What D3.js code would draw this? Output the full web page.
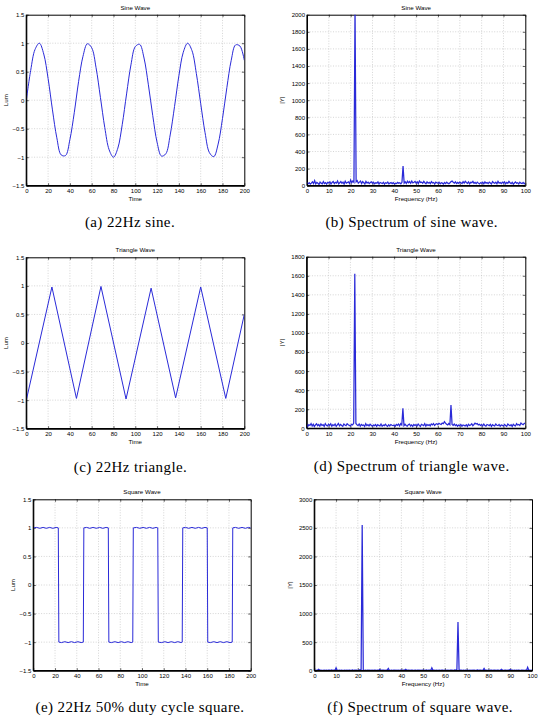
<!DOCTYPE html>
<html>
<head>
<meta charset="utf-8">
<script src="https://cdn.jsdelivr.net/npm/d3@7"></script>
<style>
  body { margin: 0; background: #fff; }
  svg { display: block; }
  .tick text { font-family: "Liberation Sans", Arial, sans-serif; font-size: 6px; fill: #000; }
  .lbl { font-family: "Liberation Sans", Arial, sans-serif; font-size: 6.2px; fill: #000; }
  .cap { font-family: "Liberation Serif", "DejaVu Serif", serif; font-size: 15px; letter-spacing: 0.4px; fill: #000; }
</style>
</head>
<body>
<div id="chart"></div>
<script>
// ---- data ----
var sineTime = [0, 4, 8, 12, 16, 20, 24, 28, 32, 36, 40, 44, 48, 52, 56, 60, 64, 68, 72, 76,
  80, 84, 88, 92, 96, 100, 104, 108, 112, 116, 120, 124, 128, 132, 136, 140, 144, 148, 152, 156,
  160, 164, 168, 172, 176, 180, 184, 188, 192, 196, 200];
var sineLum = [0, 0.52, 0.89, 1.0, 0.81, 0.38, -0.17, -0.66, -0.96, -0.97, -0.69, -0.22, 0.33, 0.77, 0.99, 0.92, 0.57, 0.05, -0.48, -0.87,
  -1.0, -0.84, -0.43, 0.11, 0.62, 0.94, 0.98, 0.74, 0.27, -0.27, -0.74, -0.98, -0.94, -0.61, -0.11, 0.43, 0.84, 1.0, 0.87, 0.47,
  -0.06, -0.57, -0.92, -0.99, -0.77, -0.32, 0.22, 0.70, 0.97, 0.95, 0.70];

var triTime = [0, 23.5, 46, 68.5, 91.5, 114.5, 137, 160, 183, 200];
var triLum = [-1, 0.98, -0.97, 0.99, -0.98, 0.96, -0.96, 0.98, -0.97, 0.5];

var sqTime = [0, 3, 6, 9, 12, 15, 18, 21, 23, 23.5, 26, 29, 32, 35, 38, 41, 44, 46, 46.5, 49, 52, 55, 58, 61, 64, 67, 69, 69.5,
  72, 75, 78, 81, 84, 87, 90, 91.5, 92, 95, 98, 101, 104, 107, 110, 113, 114.5, 115, 118, 121, 124, 127, 130, 133, 136, 137, 137.5,
  140, 143, 146, 149, 152, 155, 158, 160, 160.5, 163, 166, 169, 172, 175, 178, 181, 183, 183.5, 186, 189, 192, 195, 198, 200];
var sqLum = [1, 1.008, 0.992, 1.008, 0.992, 1.008, 0.992, 1.008, 1, -1, -1.008, -0.992, -1.008, -0.992, -1.008, -0.992, -1.008, -1, 1, 1.008, 0.992, 1.008, 0.992, 1.008, 0.992, 1.008, 1, -1,
  -1.008, -0.992, -1.008, -0.992, -1.008, -0.992, -1.008, -1, 1, 1.008, 0.992, 1.008, 0.992, 1.008, 0.992, 1.008, 1, -1, -1.008, -0.992, -1.008, -0.992, -1.008, -0.992, -1.008, -1, 1,
  1.008, 0.992, 1.008, 0.992, 1.008, 0.992, 1.008, 1, -1, -1.008, -0.992, -1.008, -0.992, -1.008, -0.992, -1.008, -1, 1, 1.008, 0.992, 1.008, 0.992, 1.008, 1];

var freqHz = [0, 0.5, 1, 1.5, 2, 2.5, 3, 3.5, 4, 4.5, 5, 5.5, 6, 6.5, 7, 7.5, 8, 8.5, 9, 9.5,
  10, 10.5, 11, 11.5, 12, 12.5, 13, 13.5, 14, 14.5, 15, 15.5, 16, 16.5, 17, 17.5, 18, 18.5, 19, 19.5,
  20, 20.5, 21, 21.5, 22, 22.5, 23, 23.5, 24, 24.5, 25, 25.5, 26, 26.5, 27, 27.5, 28, 28.5, 29, 29.5,
  30, 30.5, 31, 31.5, 32, 32.5, 33, 33.5, 34, 34.5, 35, 35.5, 36, 36.5, 37, 37.5, 38, 38.5, 39, 39.5,
  40, 40.5, 41, 41.5, 42, 42.5, 43, 43.5, 44, 44.5, 45, 45.5, 46, 46.5, 47, 47.5, 48, 48.5, 49, 49.5,
  50, 50.5, 51, 51.5, 52, 52.5, 53, 53.5, 54, 54.5, 55, 55.5, 56, 56.5, 57, 57.5, 58, 58.5, 59, 59.5,
  60, 60.5, 61, 61.5, 62, 62.5, 63, 63.5, 64, 64.5, 65, 65.5, 66, 66.5, 67, 67.5, 68, 68.5, 69, 69.5,
  70, 70.5, 71, 71.5, 72, 72.5, 73, 73.5, 74, 74.5, 75, 75.5, 76, 76.5, 77, 77.5, 78, 78.5, 79, 79.5,
  80, 80.5, 81, 81.5, 82, 82.5, 83, 83.5, 84, 84.5, 85, 85.5, 86, 86.5, 87, 87.5, 88, 88.5, 89, 89.5,
  90, 90.5, 91, 91.5, 92, 92.5, 93, 93.5, 94, 94.5, 95, 95.5, 96, 96.5, 97, 97.5, 98, 98.5, 99, 99.5, 100];

var sineSpec = [40, 22, 35, 18, 30, 45, 25, 60, 20, 38, 28, 15, 42, 30, 22, 48, 26, 35, 18, 40,
  32, 45, 20, 38, 50, 25, 40, 30, 55, 22, 35, 48, 28, 42, 20, 52, 30, 38, 45, 25,
  65, 35, 55, 40, 2100, 45, 60, 30, 42, 55, 25, 48, 35, 20, 50, 30, 42, 25, 38, 45,
  28, 40, 22, 35, 30, 45, 20, 38, 32, 25, 40, 18, 35, 28, 42, 22, 30, 38, 25, 35,
  20, 30, 25, 38, 28, 35, 22, 40, 230, 30, 45, 25, 52, 35, 48, 28, 55, 32, 40, 50,
  30, 45, 25, 55, 38, 42, 28, 50, 35, 22, 45, 30, 40, 25, 48, 32, 38, 20, 42, 35,
  28, 40, 22, 35, 30, 20, 38, 25, 42, 30, 22, 35, 48, 55, 40, 30, 45, 25, 38, 28,
  42, 35, 25, 48, 30, 52, 38, 28, 45, 22, 40, 35, 50, 28, 38, 25, 42, 30, 20, 35,
  28, 40, 22, 45, 30, 38, 25, 42, 32, 20, 48, 35, 28, 40, 22, 50, 30, 38, 25, 42,
  30, 45, 22, 38, 28, 50, 35, 25, 40, 18, 32, 45, 28, 35, 20, 40, 30, 25, 38, 22, 35];

var triSpec = [45, 20, 38, 30, 50, 25, 42, 18, 35, 48, 28, 40, 22, 45, 30, 38, 20, 50, 32, 25,
  42, 30, 48, 22, 38, 28, 45, 20, 35, 50, 25, 40, 30, 22, 45, 35, 28, 48, 38, 30,
  25, 42, 35, 55, 1620, 50, 38, 28, 45, 22, 40, 30, 35, 20, 48, 28, 38, 25, 42, 32,
  22, 35, 28, 40, 20, 38, 30, 25, 45, 22, 35, 28, 42, 30, 20, 38, 25, 40, 32, 28,
  35, 22, 40, 30, 45, 25, 48, 35, 210, 28, 42, 30, 22, 38, 45, 25, 35, 20, 40, 30,
  38, 25, 45, 30, 20, 42, 35, 28, 48, 22, 40, 30, 38, 25, 45, 35, 50, 30, 42, 48,
  38, 52, 45, 40, 55, 48, 70, 55, 42, 35, 50, 38, 245, 40, 30, 45, 28, 38, 22, 35,
  28, 40, 22, 35, 30, 25, 38, 20, 42, 30, 35, 48, 28, 40, 55, 45, 50, 35, 42, 30,
  38, 25, 45, 30, 22, 40, 35, 28, 42, 20, 38, 30, 25, 45, 32, 28, 40, 22, 35, 30,
  25, 40, 30, 22, 45, 35, 28, 38, 20, 42, 30, 25, 48, 35, 40, 30, 55, 45, 38, 50, 55];

var sqSpec = [10, 6, 8, 12, 25, 7, 9, 5, 8, 11, 6, 9, 7, 10, 8, 6, 12, 7, 9, 8,
  50, 8, 6, 10, 7, 9, 5, 8, 11, 7, 9, 6, 10, 8, 7, 12, 6, 9, 8, 10,
  7, 9, 18, 8, 2550, 12, 7, 10, 6, 9, 8, 11, 7, 10, 6, 8, 9, 7, 11, 8,
  20, 6, 9, 8, 10, 7, 12, 9, 40, 8, 6, 10, 7, 9, 8, 11, 6, 9, 7, 10,
  8, 6, 9, 11, 25, 7, 10, 8, 6, 9, 12, 7, 8, 10, 6, 9, 8, 11, 7, 9,
  10, 6, 8, 12, 7, 9, 11, 6, 50, 8, 10, 7, 9, 6, 8, 11, 7, 10, 8, 6,
  9, 7, 11, 8, 6, 10, 12, 9, 7, 15, 10, 18, 850, 14, 8, 10, 7, 9, 6, 11,
  8, 10, 7, 9, 6, 11, 8, 10, 7, 9, 12, 6, 8, 10, 7, 9, 40, 8, 11, 6,
  9, 7, 10, 8, 6, 11, 9, 7, 10, 8, 6, 12, 25, 9, 7, 10, 8, 6, 9, 11,
  20, 8, 10, 7, 9, 6, 11, 8, 10, 7, 9, 12, 8, 6, 10, 9, 60, 8, 11, 7, 9];

var timeTicks = [0, 20, 40, 60, 80, 100, 120, 140, 160, 180, 200];
var lumTicks = [-1.5, -1, -0.5, 0, 0.5, 1, 1.5];
var freqTicks = [0, 10, 20, 30, 40, 50, 60, 70, 80, 90, 100];
var sineSpecTicks = [0, 200, 400, 600, 800, 1000, 1200, 1400, 1600, 1800, 2000];
var triSpecTicks = [0, 200, 400, 600, 800, 1000, 1200, 1400, 1600, 1800];
var sqSpecTicks = [0, 500, 1000, 1500, 2000, 2500, 3000];

// ---- panel layout ----
var panels = [
  { title: 'Sine Wave', xs: sineTime, ys: sineLum, xTicks: timeTicks, yTicks: lumTicks, xMax: 200, yMin: -1.5, yMax: 1.5, smooth: true,
    xLabel: 'Time', yLabel: 'Lum', cap: '(a) 22Hz sine.', l: 26.3, r: 244.3, t: 14.7, b: 185.7, capX: 130, capY: 227, yLabX: 6 },
  { title: 'Sine Wave', xs: freqHz, ys: sineSpec, xTicks: freqTicks, yTicks: sineSpecTicks, xMax: 100, yMin: 0, yMax: 2000,
    xLabel: 'Frequency (Hz)', yLabel: '|Y|', cap: '(b) Spectrum of sine wave.', l: 307, r: 525.3, t: 14.7, b: 185.7, capX: 411.7, capY: 227, yLabX: 282 },
  { title: 'Triangle Wave', xs: triTime, ys: triLum, xTicks: timeTicks, yTicks: lumTicks, xMax: 200, yMin: -1.5, yMax: 1.5,
    xLabel: 'Time', yLabel: 'Lum', cap: '(c) 22Hz triangle.', l: 26.3, r: 244.3, t: 257.3, b: 428.7, capX: 130.5, capY: 472, yLabX: 6 },
  { title: 'Triangle Wave', xs: freqHz, ys: triSpec, xTicks: freqTicks, yTicks: triSpecTicks, xMax: 100, yMin: 0, yMax: 1800,
    xLabel: 'Frequency (Hz)', yLabel: '|Y|', cap: '(d) Spectrum of triangle wave.', l: 306.7, r: 525.3, t: 256.7, b: 428.3, capX: 411.7, capY: 471, yLabX: 282 },
  { title: 'Square Wave', xs: sqTime, ys: sqLum, xTicks: timeTicks, yTicks: lumTicks, xMax: 200, yMin: -1.5, yMax: 1.5,
    xLabel: 'Time', yLabel: 'Lum', cap: '(e) 22Hz 50% duty cycle square.', l: 33.3, r: 250.7, t: 499.3, b: 670.7, capX: 140, capY: 712, yLabX: 13 },
  { title: 'Square Wave', xs: freqHz, ys: sqSpec, xTicks: freqTicks, yTicks: sqSpecTicks, xMax: 100, yMin: 0, yMax: 3000,
    xLabel: 'Frequency (Hz)', yLabel: '|Y|', cap: '(f) Spectrum of square wave.', l: 314.3, r: 532, t: 499.3, b: 670.7, capX: 420, capY: 712, yLabX: 290 }
];

var svg = d3.select('#chart').append('svg').attr('width', 540).attr('height', 720);

// Minus sign like the original figure
function fmt(d) { return String(d).replace('-', '\u2212'); }

panels.forEach(function(p, i) {
  var x = d3.scaleLinear().domain([0, p.xMax]).range([p.l, p.r]);
  var y = d3.scaleLinear().domain([p.yMin, p.yMax]).range([p.b, p.t]);
  var g = svg.append('g');

  // dotted grid
  g.selectAll('.gx').data(p.xTicks.slice(1, -1)).enter().append('line')
    .attr('x1', d => x(d)).attr('x2', d => x(d)).attr('y1', p.t).attr('y2', p.b)
    .style('stroke', '#b8b8b8').style('stroke-width', 0.6).style('stroke-dasharray', '1,1.6');
  g.selectAll('.gy').data(p.yTicks.slice(1, -1)).enter().append('line')
    .attr('x1', p.l).attr('x2', p.r).attr('y1', d => y(d)).attr('y2', d => y(d))
    .style('stroke', '#b8b8b8').style('stroke-width', 0.6).style('stroke-dasharray', '1,1.6');

  // axes with inward ticks
  g.append('g').attr('transform', 'translate(0,' + p.b + ')')
    .call(d3.axisBottom(x).tickValues(p.xTicks).tickFormat(fmt).tickSizeInner(-2.5).tickSizeOuter(0).tickPadding(3));
  g.append('g').attr('transform', 'translate(' + p.l + ',0)')
    .call(d3.axisLeft(y).tickValues(p.yTicks).tickFormat(fmt).tickSizeInner(-2.5).tickSizeOuter(0).tickPadding(2));
  g.append('g').attr('transform', 'translate(0,' + p.t + ')')
    .call(d3.axisTop(x).tickValues(p.xTicks).tickFormat('').tickSizeInner(-2.5).tickSizeOuter(0));
  g.append('g').attr('transform', 'translate(' + p.r + ',0)')
    .call(d3.axisRight(y).tickValues(p.yTicks).tickFormat('').tickSizeInner(-2.5).tickSizeOuter(0));
  g.selectAll('.domain').style('stroke', '#000').style('stroke-width', 1);
  g.selectAll('.tick line').style('stroke', '#000').style('stroke-width', 0.6);

  // clip so the clipped peak stays in the box
  svg.append('clipPath').attr('id', 'clip' + i).append('rect')
    .attr('x', p.l).attr('y', p.t).attr('width', p.r - p.l).attr('height', p.b - p.t);
  var line = d3.line().x((d, k) => x(p.xs[k])).y(d => y(d))
    .curve(p.smooth ? d3.curveCatmullRom : d3.curveLinear);
  g.append('path').datum(p.ys).attr('d', line).attr('clip-path', 'url(#clip' + i + ')')
    .style('fill', 'none').style('stroke', '#2a2ad8').style('stroke-width', p.xMax === 100 ? 1.25 : 1);

  // thicker left and bottom edge
  g.append('line').attr('x1', p.l).attr('x2', p.l).attr('y1', p.t).attr('y2', p.b)
    .style('stroke', '#000').style('stroke-width', 1.2);
  g.append('line').attr('x1', p.l).attr('x2', p.r).attr('y1', p.b).attr('y2', p.b)
    .style('stroke', '#000').style('stroke-width', 1.2);

  // texts
  g.append('text').attr('class', 'lbl').attr('x', (p.l + p.r) / 2).attr('y', p.t - 5)
    .attr('text-anchor', 'middle').text(p.title);
  g.append('text').attr('class', 'lbl').attr('x', (p.l + p.r) / 2).attr('y', p.b + 15.5)
    .attr('text-anchor', 'middle').text(p.xLabel);
  g.append('text').attr('class', 'lbl')
    .attr('transform', 'translate(' + (p.yLabX + 2) + ',' + ((p.t + p.b) / 2) + ') rotate(-90)')
    .attr('text-anchor', 'middle').text(p.yLabel);
  g.append('text').attr('class', 'cap').attr('x', p.capX).attr('y', p.capY)
    .attr('text-anchor', 'middle').text(p.cap);
});
</script>
</body>
</html>
